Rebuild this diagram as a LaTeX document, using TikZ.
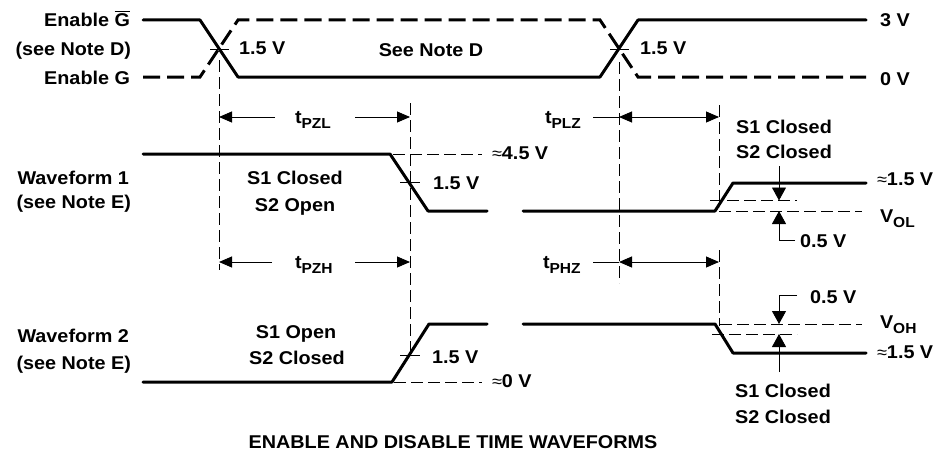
\documentclass[tikz,border=0pt]{standalone}
\usepackage{fontspec}
\setmainfont{Liberation Sans}[FakeStretch=1.07]
\usetikzlibrary{arrows.meta}
\newcommand{\mysub}[1]{\raisebox{-0.28em}{\fontsize{14.5}{14.5}\selectfont #1}}
\newcommand{\Gbar}{\setbox0\hbox{G}\rlap{\rule[\dimexpr\ht0+1.8pt\relax]{\wd0}{1.1pt}}G}
\newcommand{\apx}{{\fontsize{17}{17}\selectfont\mdseries ≈}}
\begin{document}
\begin{tikzpicture}[x=1pt,y=-1pt,
  font=\fontsize{18.5}{21}\selectfont\bfseries,
  wave/.style={line width=3pt, line cap=round, line join=round},
  wavedash/.style={line width=3pt, dash pattern=on 17pt off 7pt},
  guide/.style={line width=0.9pt, dash pattern=on 12pt off 5pt},
  tickline/.style={line width=0.9pt},
  tarrow/.style={line width=0.9pt, -{Triangle[length=13pt,width=11pt]}},
  tboth/.style={line width=0.9pt, {Triangle[length=13pt,width=11pt]}-{Triangle[length=13pt,width=11pt]}},
  varrow/.style={line width=0.9pt, -{Triangle[length=13pt,width=14pt]}},
  lbl/.style={inner sep=0pt, outer sep=0pt},
  lw/.style={lbl, anchor=base west},
  le/.style={lbl, anchor=base east},
  lc/.style={lbl, anchor=base},
]
\useasboundingbox (0,0) rectangle (941,460);

% ---------- left labels ----------
\node[le] (eg1) at (130,26.5) {Enable \Gbar};
\node[le] (nd)  at (131,55.5) {(see Note D)};
\node[le] (eg2) at (130,84.5) {Enable G};
\node[le] (wf1) at (129,184) {Waveform 1};
\node[le] (ne1) at (131,208) {(see Note E)};
\node[le] (wf2) at (129,342) {Waveform 2};
\node[le] (ne2) at (131,369) {(see Note E)};

% ---------- enable signals ----------
\coordinate (ga) at (143,20);
\draw[wave] (ga) -- (200,20) -- (238,77) -- (600,77) -- (638,20) -- (866,20);
\draw[wavedash] (143,77) -- (200,77) -- (238,20) -- (600,20) -- (638,77) -- (866,77);
\draw[tickline] (210,49) -- (229,49);
\draw[tickline] (610,49) -- (629,49);
\node[lw] (v15a) at (239,55) {1.5 V};
\node[lw] (v15b) at (640,55) {1.5 V};
\node[lc] (snd)  at (431,56.5) {See Note D};
\node[lw] (v3)   at (880,27) {3 V};
\node[lw] (v0)   at (880,85) {0 V};

% ---------- guide lines ----------
\draw[guide] (219,60) -- (219,270);
\draw[guide] (410,103) -- (410,358);
\draw[guide] (619,62) -- (619,283);
\draw[guide] (719,105) -- (719,207);
\draw[guide] (719,250) -- (719,326);

% ---------- time arrows ----------
\node[lw] (tpzl) at (295,123) {t\mysub{PZL}};
\draw[tarrow] (275,117) -- (219,117);
\draw[tarrow] (355,117) -- (410,117);
\node[lw] (tplz) at (545,123) {t\mysub{PLZ}};
\draw[tickline] (593,117) -- (619,117);
\draw[tboth] (619,117) -- (719,117);

\node[lw] (tpzh) at (295,268) {t\mysub{PZH}};
\draw[tarrow] (272,262) -- (219,262);
\draw[tarrow] (355,262) -- (410,262);
\node[lw] (tphz) at (543,268) {t\mysub{PHZ}};
\draw[tickline] (593,262) -- (619,262);
\draw[tboth] (619,262) -- (719,262);

% ---------- waveform 1 ----------
\draw[wave] (143,154) -- (390,154) -- (428,211) -- (487,211);
\draw[wave] (523,211) -- (715,211) -- (733,183) -- (866,183);
\draw[guide] (393,154) -- (482,154);
\draw[tickline] (400,182) -- (420,182);
\node[lw] (v45) at (492,159) {\apx 4.5 V};
\node[lw] (v15c) at (433,189) {1.5 V};
\node[lc] (s1c) at (295,184) {S1 Closed};
\node[lc] (s2o) at (295,211) {S2 Open};
\node[lc] (s1ca) at (784,133) {S1 Closed};
\node[lc] (s2ca) at (784,158) {S2 Closed};
\draw[guide] (710,200.5) -- (797,200.5);
\draw[guide] (719,211) -- (862,211);
\draw[varrow] (779,166) -- (779,200.5);
\draw[varrow] (795,240) -- (779,240) -- (779,211);
\node[lw] (v15d) at (877,185.5) {\apx 1.5 V};
\node[lw] (vol) at (880,222) {V\mysub{OL}};
\node[lw] (v05a) at (800,247) {0.5 V};

% ---------- waveform 2 ----------
\draw[wave] (143,382) -- (392,382) -- (429,324) -- (487,324);
\draw[wave] (523,324) -- (715,324) -- (733,353) -- (866,353);
\draw[guide] (394,382) -- (482,382);
\draw[tickline] (400,355) -- (420,355);
\node[lw] (v00) at (492,387) {\apx 0 V};
\node[lw] (v15e) at (432,363) {1.5 V};
\node[lc] (s1o) at (296,338) {S1 Open};
\node[lc] (s2c) at (297,364) {S2 Closed};
\draw[guide] (720,324) -- (862,324);
\draw[guide] (712,334) -- (797,334);
\draw[varrow] (797,295) -- (779,295) -- (779,324);
\draw[varrow] (779,372) -- (779,334);
\node[lw] (v05b) at (810,303) {0.5 V};
\node[lw] (voh) at (880,328) {V\mysub{OH}};
\node[lw] (v15f) at (877,358) {\apx 1.5 V};
\node[lc] (s1cb) at (783,397) {S1 Closed};
\node[lc] (s2cb) at (783,423) {S2 Closed};

% ---------- title ----------
\node[lc] (title) at (453,448) {ENABLE AND DISABLE TIME WAVEFORMS};
\end{tikzpicture}
\end{document}
